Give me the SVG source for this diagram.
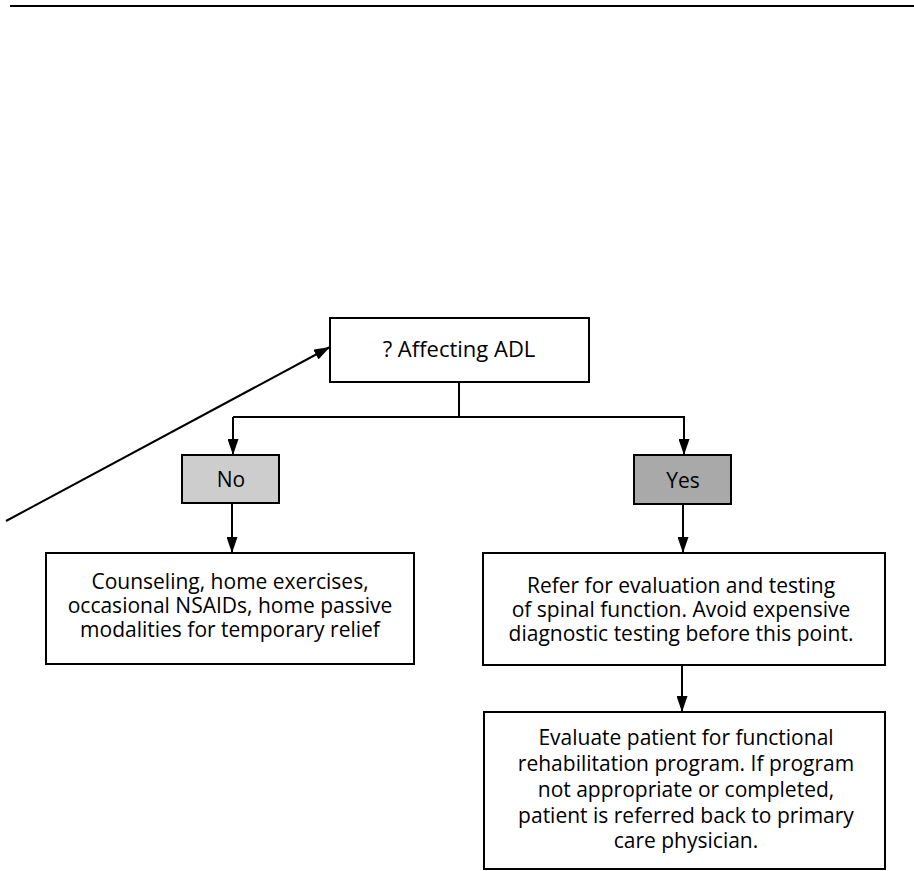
<svg xmlns="http://www.w3.org/2000/svg" width="914" height="871" viewBox="0 0 914 871">
<style>
.box{fill:#fff;stroke:#000;stroke-width:2}
.no{fill:#cdcdcd;stroke:#000;stroke-width:2}
.yes{fill:#a9a9a9;stroke:#000;stroke-width:2}
.t{font-family:"Open Sans","Noto Sans",sans-serif;font-size:21px;fill:#000;text-anchor:middle}
.c{fill:none;stroke:#000;stroke-width:2}
</style>
<defs>
<marker id="arr" markerUnits="userSpaceOnUse" markerWidth="16" markerHeight="11" refX="16" refY="5.5" orient="auto" viewBox="0 0 16 11">
<path d="M0,0 L16,5.5 L0,11 z" fill="#000"/>
</marker>
</defs>
<line x1="10" y1="6" x2="914" y2="6" stroke="#000" stroke-width="2"/>
<g id="connectors">
<path class="c" d="M6,521 L330,347" marker-end="url(#arr)"/>
<path class="c" d="M459,382 L459,417"/>
<path class="c" d="M233,417 L685,417"/>
<path class="c" d="M233,417 L233,455" marker-end="url(#arr)"/>
<path class="c" d="M684,417 L684,455" marker-end="url(#arr)"/>
<path class="c" d="M232,503 L232,553" marker-end="url(#arr)"/>
<path class="c" d="M683,504 L683,553" marker-end="url(#arr)"/>
<path class="c" d="M682,665 L682,712" marker-end="url(#arr)"/>
</g>
<g id="affecting">
<rect class="box" x="330" y="318" width="259" height="64"/>
<text class="t" x="459" y="357" style="font-size:22px">? Affecting ADL</text>
</g>
<g id="no">
<rect class="no" x="182" y="455" width="97" height="48"/>
<text class="t" x="231" y="487">No</text>
</g>
<g id="yes">
<rect class="yes" x="634" y="455" width="97" height="49"/>
<text class="t" x="683" y="488">Yes</text>
</g>
<g id="counseling">
<rect class="box" x="46" y="553" width="368" height="111"/>
<text class="t" x="230" y="589">Counseling, home exercises,</text>
<text class="t" x="230" y="613">occasional NSAIDs, home passive</text>
<text class="t" x="230" y="637">modalities for temporary relief</text>
</g>
<g id="refer">
<rect class="box" x="483" y="553" width="402" height="112"/>
<text class="t" x="681" y="593">Refer for evaluation and testing</text>
<text class="t" x="681" y="617">of spinal function. Avoid expensive</text>
<text class="t" x="681" y="641">diagnostic testing before this point.</text>
</g>
<g id="evaluate">
<rect class="box" x="484" y="712" width="401" height="157"/>
<text class="t" x="686" y="745">Evaluate patient for functional</text>
<text class="t" x="686" y="771">rehabilitation program. If program</text>
<text class="t" x="686" y="797">not appropriate or completed,</text>
<text class="t" x="686" y="823">patient is referred back to primary</text>
<text class="t" x="686" y="848">care physician.</text>
</g>
</svg>
